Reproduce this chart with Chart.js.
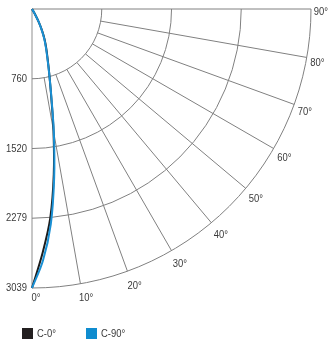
<!DOCTYPE html>
<html>
<head>
<meta charset="utf-8">
<script src="https://cdn.jsdelivr.net/npm/chart.js@4.4.0/dist/chart.umd.min.js"></script>
<style>
  html, body { margin: 0; padding: 0; background: #fff; }
  #wrap { width: 328px; height: 344px; }
</style>
</head>
<body>
<div id="wrap"><canvas id="polarChart"></canvas></div>
<script>
// gamma angles (deg) and luminous intensity (cd) for both C-planes
const angles = [0, 2.5, 5, 7.5, 10, 12.5, 15, 17.5, 20, 22.5, 25, 27.5, 30, 32.5, 35, 40, 50, 60, 70, 80, 90];
const c0 =  [3039, 2657, 2285, 1817, 1349, 962, 725, 564, 452, 357, 257, 160, 60, 15, 0, 0, 0, 0, 0, 0, 0];
const c90 = [3039, 2742, 2351, 1850, 1370, 970, 720, 555, 440, 345, 245, 150, 55, 12, 0, 0, 0, 0, 0, 0, 0];

const ringValues = [760, 1520, 2279, 3039];
const angleTicks = [0, 10, 20, 30, 40, 50, 60, 70, 80, 90];
const maxValue = 3039;

const FONT = "11.5px 'Liberation Sans', Arial, sans-serif";
const TEXT = '#3a3a3a';
const NARROW = 0.82; // fake a condensed face

function toPoints(values) {
  return angles.map((a, i) => {
    const t = a * Math.PI / 180;
    return { x: values[i] * Math.sin(t), y: values[i] * Math.cos(t) };
  });
}

function narrowText(ctx, text, x, y, align) {
  ctx.save();
  ctx.translate(x, y);
  ctx.scale(NARROW, 1);
  ctx.textAlign = align;
  ctx.fillText(text, 0, 0);
  ctx.restore();
}

const polarGrid = {
  id: 'polarGrid',
  beforeDatasetsDraw(chart) {
    const { ctx, scales: { x, y } } = chart;
    const cx = x.getPixelForValue(0), cy = y.getPixelForValue(0);
    const rad = v => x.getPixelForValue(v) - cx;
    ctx.save();
    // 0 deg axis
    ctx.strokeStyle = '#b4b4b4';
    ctx.lineWidth = 1.5;
    ctx.beginPath();
    ctx.moveTo(cx, cy);
    ctx.lineTo(cx, y.getPixelForValue(maxValue));
    ctx.stroke();
    // rings
    ctx.strokeStyle = '#808080';
    ctx.lineWidth = 1;
    ringValues.forEach(v => {
      ctx.beginPath();
      ctx.arc(cx, cy, rad(v), 0, Math.PI / 2);
      ctx.stroke();
    });
    // spokes
    angleTicks.forEach(a => {
      if (a === 0) return;
      const t = a * Math.PI / 180;
      const r0 = a === 90 ? 0 : rad(ringValues[0]);
      const r1 = rad(maxValue);
      ctx.beginPath();
      ctx.moveTo(cx + r0 * Math.sin(t), cy + r0 * Math.cos(t));
      ctx.lineTo(cx + r1 * Math.sin(t), cy + r1 * Math.cos(t));
      ctx.stroke();
    });
    ctx.restore();
  },
  afterDraw(chart) {
    const { ctx, chartArea, scales: { x, y } } = chart;
    const cx = x.getPixelForValue(0), cy = y.getPixelForValue(0);
    const r1 = x.getPixelForValue(maxValue) - cx;
    ctx.save();
    ctx.font = FONT;
    ctx.fillStyle = TEXT;
    ctx.textBaseline = 'middle';
    // intensity labels along the 0 deg axis
    y.ticks.forEach(t => {
      narrowText(ctx, String(t.value), chartArea.left - 5, y.getPixelForValue(t.value), 'right');
    });
    // angle labels
    angleTicks.forEach(a => {
      const t = a * Math.PI / 180;
      const s = Math.sin(t), c = Math.cos(t);
      const lx = cx + (r1 + 12) * s + 4 * c - 2 * s;
      const ly = Math.min(cy + (r1 + 12) * c + 3, chartArea.bottom + 10);
      narrowText(ctx, a + '°', lx, ly, 'center');
    });
    // legend
    const legendX = [22, 86];
    const legendY = 328;
    chart.data.datasets.forEach((ds, i) => {
      ctx.fillStyle = ds.legendColor;
      ctx.fillRect(legendX[i], legendY, 11, 11);
      ctx.fillStyle = TEXT;
      narrowText(ctx, ds.label, legendX[i] + 15, legendY + 6, 'left');
    });
    ctx.restore();
  }
};

new Chart(document.getElementById('polarChart'), {
  type: 'scatter',
  data: {
    datasets: [
      {
        label: 'C-0°',
        data: toPoints(c0),
        borderColor: '#1c1c1c',
        legendColor: '#231f20',
        borderWidth: 2,
        showLine: true,
        pointRadius: 0,
        tension: 0.35,
        clip: false,
        order: 1
      },
      {
        label: 'C-90°',
        data: toPoints(c90),
        borderColor: '#1a90d4',
        legendColor: '#0f8ccf',
        borderWidth: 2,
        showLine: true,
        pointRadius: 0,
        tension: 0.35,
        clip: false,
        order: 0
      }
    ]
  },
  options: {
    responsive: true,
    maintainAspectRatio: false,
    animation: false,
    layout: {
      padding: { left: 0, top: 9, right: 17, bottom: 56 }
    },
    plugins: {
      legend: { display: false },
      tooltip: { enabled: false }
    },
    scales: {
      x: {
        type: 'linear',
        display: false,
        min: 0,
        max: maxValue
      },
      y: {
        type: 'linear',
        reverse: true,
        min: 0,
        max: maxValue,
        grid: { display: false, drawTicks: false },
        border: { display: false },
        afterBuildTicks: scale => {
          scale.ticks = ringValues.map(v => ({ value: v }));
        },
        afterFit: scale => {
          scale.width = 32;
        },
        ticks: { display: false }
      }
    }
  },
  plugins: [polarGrid]
});
</script>
</body>
</html>
